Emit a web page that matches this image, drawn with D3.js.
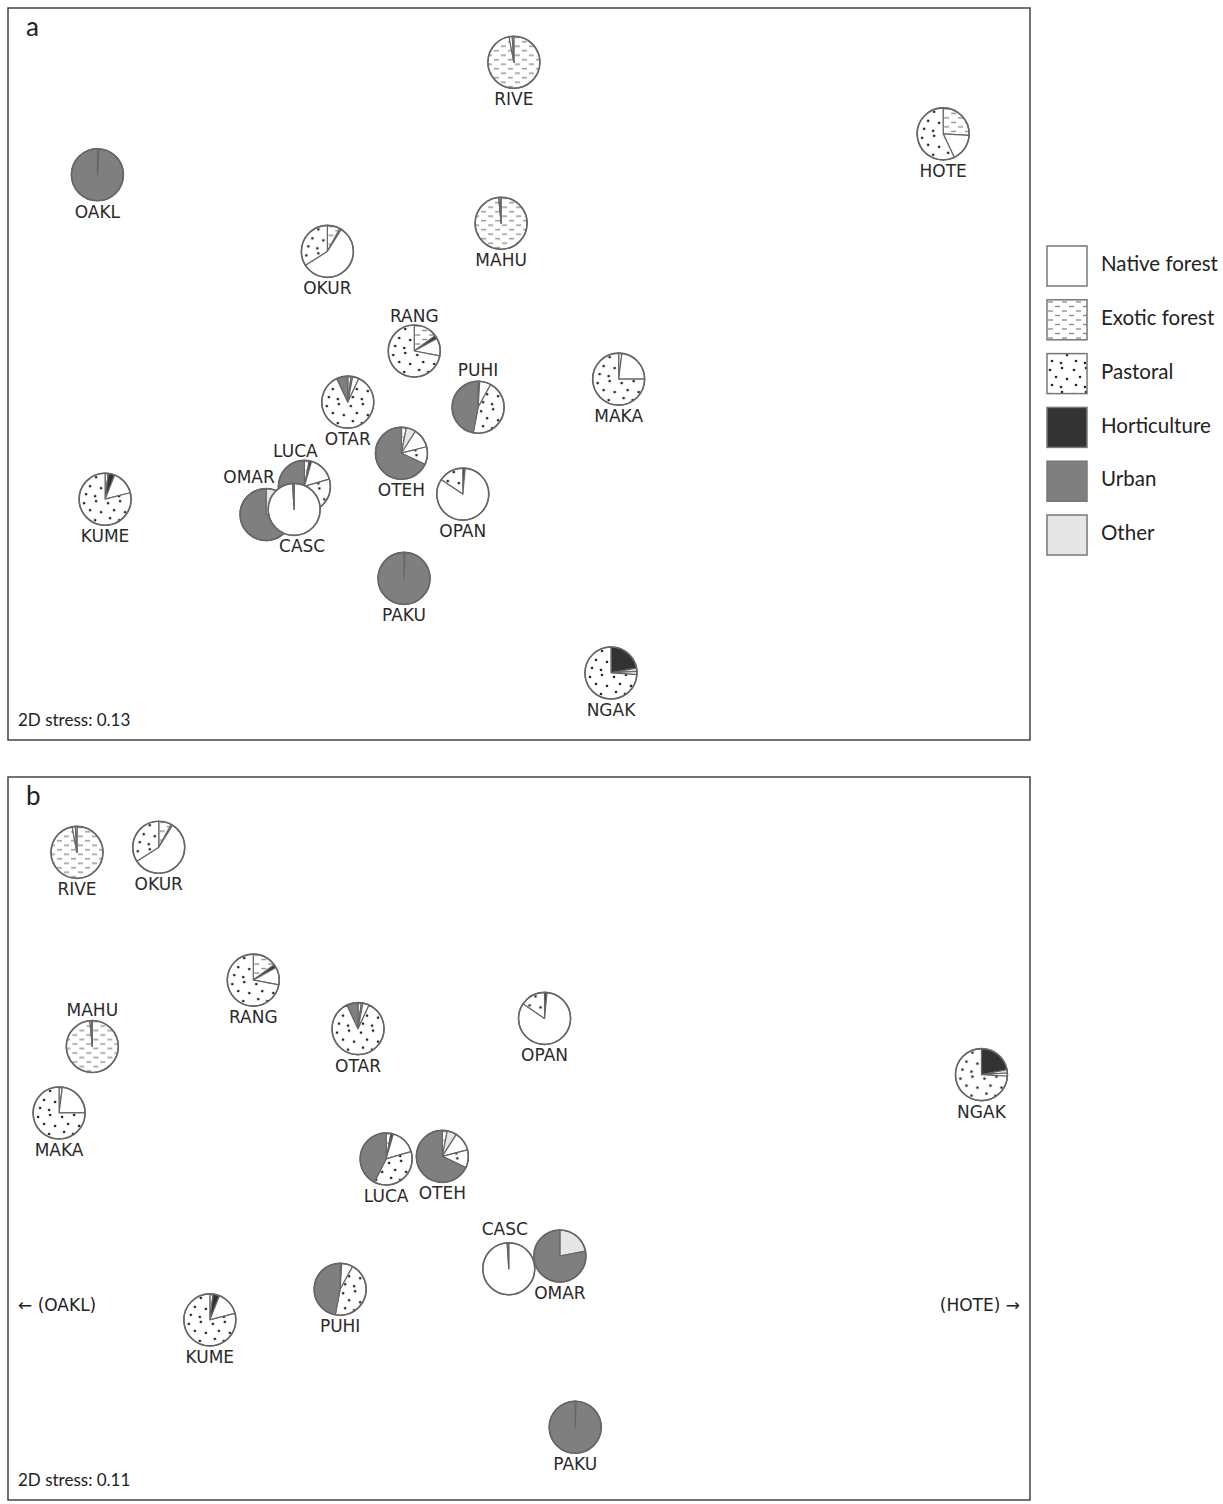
<!DOCTYPE html>
<html>
<head>
<meta charset="utf-8">
<script src="https://cdn.jsdelivr.net/npm/d3@7"></script>
<style>
  body { margin: 0; background: #fff; }
  svg text { fill: #222; }
</style>
</head>
<body>
<div id="chart"></div>
<script>
// Sites (catchments)
const sites = ["RIVE","HOTE","OAKL","MAHU","OKUR","RANG","PUHI","MAKA","OTAR","OTEH","LUCA","OMAR","CASC","KUME","OPAN","PAKU","NGAK"];

// Land use proportions (%) per site, same order as sites
const exotic       = [97, 26, 0, 98.5, 8, 15, 1, 2, 2, 3, 3, 0, 0, 2, 0, 0, 0];
const horticulture = [0, 0, 0, 0, 0, 2, 0, 0, 0, 0, 1.5, 0, 0, 4, 1.5, 0.6, 22];
const other        = [0, 0, 0, 0, 1, 0, 0, 0, 1, 6, 0, 22, 0, 0, 0, 0, 2];
const native       = [2, 17, 1, 1, 57, 11, 7, 23, 4, 12, 16, 0, 99, 15, 83, 0, 2];
const pastoral     = [1, 57, 0, 0.5, 34, 72, 45, 75, 86, 11, 37, 0, 0, 79, 15.5, 0, 74];
const urban        = [0, 0, 99, 0, 0, 0, 47, 0, 7, 68, 42.5, 78, 1, 0, 0, 99.4, 0];

// NMDS coordinates, panel a
const aX = [-0.02, 1.66, -1.65, -0.07, -0.75, -0.41, -0.16, 0.39, -0.67, -0.46, -0.84, -0.99, -0.88, -1.62, -0.22, -0.45, 0.36];
const aY = [1.22, 0.94, 0.78, 0.59, 0.48, 0.09, -0.13, -0.02, -0.11, -0.31, -0.44, -0.55, -0.53, -0.49, -0.47, -0.80, -1.17];
// NMDS coordinates, panel b (OAKL and HOTE fall outside the plotted area)
const bX = [-1.73, null, null, -1.67, -1.41, -1.04, -0.70, -1.80, -0.63, -0.30, -0.52, 0.16, -0.04, -1.21, 0.10, 0.22, 1.81];
const bY = [1.12, null, null, 0.36, 1.14, 0.62, -0.59, 0.10, 0.43, -0.07, -0.08, -0.46, -0.51, -0.71, 0.47, -1.13, 0.25];

const stressA = "2D stress: 0.13";
const stressB = "2D stress: 0.11";

// legend order and slice order
const legendCats = ["Native forest","Exotic forest","Pastoral","Horticulture","Urban","Other"];
const sliceCats = ["Exotic forest","Horticulture","Other","Native forest","Pastoral","Urban"];
const sliceVals = [exotic, horticulture, other, native, pastoral, urban];

const fills = {
  "Native forest": "#ffffff",
  "Exotic forest": "url(#exo)",
  "Pastoral": "url(#pas)",
  "Horticulture": "#333333",
  "Urban": "#7f7f7f",
  "Other": "#e6e6e6"
};

// label placement (style only)
const labelPosA = {RANG:[0,-34], PUHI:[0,-36], LUCA:[-9,-34], OMAR:[-17,-37], CASC:[8,38]};
const labelPosB = {MAHU:[0,-36], CASC:[-4,-39]};

const W = 1223, H = 1504;
const R = 26;

const svg = d3.select("#chart").append("svg")
  .attr("width", W).attr("height", H);

// patterns
const defs = svg.append("defs");
const pe = defs.append("pattern").attr("id","exo").attr("patternUnits","userSpaceOnUse")
  .attr("width", 14).attr("height", 9);
pe.append("rect").attr("width",14).attr("height",9).attr("fill","#fff");
pe.append("line").attr("x1",1).attr("x2",6).attr("y1",2).attr("y2",2).attr("stroke","#888").attr("stroke-width",1.3);
pe.append("line").attr("x1",8).attr("x2",13).attr("y1",6.5).attr("y2",6.5).attr("stroke","#888").attr("stroke-width",1.3);

const pp = defs.append("pattern").attr("id","pas").attr("patternUnits","userSpaceOnUse")
  .attr("width", 24).attr("height", 24);
pp.append("rect").attr("width",24).attr("height",24).attr("fill","#fff");
[[3,4],[15,2],[9,11],[20,13],[5,19],[14,21]].forEach(p => {
  pp.append("circle").attr("cx",p[0]).attr("cy",p[1]).attr("r",1.3).attr("fill","#222");
});

const pie = d3.pie().sort(null).value(d => d.v);
const arc = d3.arc().innerRadius(0).outerRadius(R);

function drawPanel(top, bottom, xs, ys, letter, stress, labelPos, drawOrder) {
  const left = 8, right = 1030;
  const g = svg.append("g");
  g.append("rect").attr("x", left).attr("y", top)
    .attr("width", right - left).attr("height", bottom - top)
    .attr("fill","none").attr("stroke","#444").attr("stroke-width",1.5);

  const k = (right - left) / 4;
  const hy = (bottom - top) / 2 / k;
  const x = d3.scaleLinear().domain([-2, 2]).range([left, right]);
  const y = d3.scaleLinear().domain([-hy, hy]).range([bottom, top]);

  g.append("text").attr("x", 26).attr("y", top + 28)
    .style("font-family","Lato, 'Open Sans', sans-serif").style("font-size","26px").text(letter);
  g.append("text").attr("x", 18).attr("y", bottom - 14)
    .style("font-family","Lato, 'Open Sans', sans-serif").style("font-size","17px").text(stress);

  const pts = drawOrder.map(i => ({i, name: sites[i], x: xs[i], y: ys[i]}))
    .filter(d => d.x != null);

  pts.forEach(d => {
    const data = sliceCats.map((c, j) => ({c, v: sliceVals[j][d.i]})).filter(s => s.v > 0);
    const pg = g.append("g").attr("transform", `translate(${x(d.x)},${y(d.y)})`);
    pg.append("circle").attr("r", R).attr("fill","#fff");
    pg.selectAll("path").data(pie(data)).enter().append("path")
      .attr("d", arc)
      .attr("fill", s => fills[s.data.c])
      .attr("stroke", "#666").attr("stroke-width", 1.2).attr("stroke-linejoin","round");
    pg.append("circle").attr("r", R).attr("fill","none").attr("stroke","#666").attr("stroke-width",1.6);
  });

  g.selectAll(".lbl").data(pts).enter().append("text")
    .attr("class","lbl")
    .attr("x", d => x(d.x) + (labelPos[d.name] ? labelPos[d.name][0] : 0))
    .attr("y", d => y(d.y) + (labelPos[d.name] ? labelPos[d.name][1] : 38))
    .attr("text-anchor","middle").attr("dominant-baseline","middle")
    .style("font-family","'DejaVu Sans', Verdana, sans-serif").style("font-size","17px")
    .style("fill","#2a2a2a")
    .text(d => d.name);
  return g;
}

// draw order: LUCA, then OMAR, then CASC on top
const orderA = [0,1,2,3,4,5,6,7,8,9,13,14,15,16,10,11,12];
drawPanel(8, 740, aX, aY, "a", stressA, labelPosA, orderA);
const gb = drawPanel(777, 1500, bX, bY, "b", stressB, labelPosB, orderA);

gb.append("text").attr("x", 18).attr("y", 1306).attr("dominant-baseline","middle")
  .style("font-family","'DejaVu Sans', Verdana, sans-serif").style("font-size","17px")
  .text("\u2190 (" + sites[2] + ")");
gb.append("text").attr("x", 1020).attr("y", 1306).attr("dominant-baseline","middle")
  .attr("text-anchor","end")
  .style("font-family","'DejaVu Sans', Verdana, sans-serif").style("font-size","17px")
  .text("(" + sites[1] + ") \u2192");

// legend
const leg = svg.append("g").attr("transform","translate(1047,246)");
const ly = d3.scaleBand().domain(legendCats).range([0, 309]).paddingInner(0.257);
legendCats.forEach(c => {
  leg.append("rect").attr("x",0).attr("y",ly(c)).attr("width",40).attr("height",40)
    .attr("fill", fills[c]).attr("stroke","#777").attr("stroke-width",1.5);
  leg.append("text").attr("x",54).attr("y",ly(c)+20).attr("dominant-baseline","middle")
    .style("font-family","Lato, 'Open Sans', sans-serif").style("font-size","20.5px").text(c);
});
</script>
</body>
</html>
